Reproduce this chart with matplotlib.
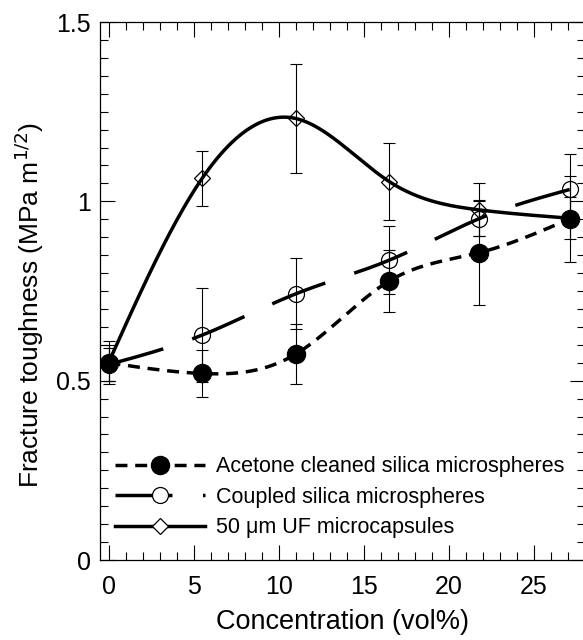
import matplotlib
matplotlib.use("Agg")
import matplotlib.pyplot as plt
from matplotlib.ticker import MultipleLocator
import numpy as np

# concentration (vol%)
conc = [0.0, 5.5, 11.0, 16.5, 21.8, 27.1]

# fracture toughness (MPa m^1/2) and error bars
acetone = [0.550, 0.520, 0.574, 0.778, 0.857, 0.951]
acetone_err = [0.060, 0.066, 0.084, 0.086, 0.146, 0.120]

coupled = [0.545, 0.627, 0.742, 0.836, 0.952, 1.033]
coupled_err = [0.045, 0.130, 0.099, 0.095, 0.050, 0.100]

uf = [0.550, 1.064, 1.231, 1.055, 0.976, 0.953]
uf_err = [0.050, 0.077, 0.152, 0.107, 0.074, 0.058]

labels = ["Acetone cleaned silica microspheres",
          "Coupled silica microspheres",
          "50 \u03bcm UF microcapsules"]


def smooth(x, y, n=300):
    # natural cubic spline through the points, only used to draw the curves
    x = np.asarray(x, float)
    y = np.asarray(y, float)
    k = len(x)
    h = np.diff(x)
    A = np.zeros((k, k))
    b = np.zeros(k)
    A[0, 0] = 1.0
    A[-1, -1] = 1.0
    for i in range(1, k - 1):
        A[i, i - 1] = h[i - 1]
        A[i, i] = 2.0 * (h[i - 1] + h[i])
        A[i, i + 1] = h[i]
        b[i] = 6.0 * ((y[i + 1] - y[i]) / h[i] - (y[i] - y[i - 1]) / h[i - 1])
    M = np.linalg.solve(A, b)
    xs = np.linspace(x[0], x[-1], n)
    idx = np.clip(np.searchsorted(x, xs) - 1, 0, k - 2)
    x0, x1 = x[idx], x[idx + 1]
    hh = x1 - x0
    t0 = x1 - xs
    t1 = xs - x0
    ys = (M[idx] * t0 ** 3 / (6 * hh) + M[idx + 1] * t1 ** 3 / (6 * hh)
          + (y[idx] / hh - M[idx] * hh / 6) * t0
          + (y[idx + 1] / hh - M[idx + 1] * hh / 6) * t1)
    return xs, ys


plt.rcParams['font.family'] = ['Liberation Sans', 'DejaVu Sans']
plt.rcParams['lines.scale_dashes'] = False

fig = plt.figure(figsize=(5.83, 6.40), dpi=100)
ax = fig.add_axes([100 / 583, 80 / 640, 485 / 583, 538 / 640])

lw = 2.5
short_dash = (0, (8.6, 5.6))
long_dash = (0, (41.0, 22.0))

# error bars
for y, e in [(acetone, acetone_err), (coupled, coupled_err), (uf, uf_err)]:
    ax.errorbar(conc, y, yerr=e, fmt='none', ecolor='black', elinewidth=0.8,
                capsize=4.3, capthick=0.8, zorder=2)

# fitted curves
xs, ys = smooth(conc, acetone)
ax.plot(xs, ys, color='black', lw=lw, linestyle=short_dash, zorder=3)
xs, ys = smooth(conc, coupled)
ax.plot(xs, ys, color='black', lw=lw, linestyle=long_dash, zorder=3)
xs, ys = smooth(conc, uf)
ax.plot(xs, ys, color='black', lw=lw, linestyle='-', zorder=3)

# markers
ax.plot(conc, acetone, 'o', ms=13, mfc='black', mec='black', zorder=4)
ax.plot(conc, coupled, 'o', ms=11.5, mfc='none', mec='black', mew=0.9, zorder=4)
ax.plot(conc, uf, 'D', ms=8.5, mfc='none', mec='black', mew=0.9, zorder=4)

# legend handles
h1, = ax.plot([], [], color='black', lw=lw, linestyle=short_dash,
              marker='o', ms=13, mfc='black', mec='black')
h2, = ax.plot([], [], color='black', lw=lw, linestyle=long_dash,
              marker='o', ms=11.5, mfc='white', mec='black', mew=0.9)
h3, = ax.plot([], [], color='black', lw=lw, linestyle='-',
              marker='D', ms=8.5, mfc='white', mec='black', mew=0.9)
ax.legend([h1, h2, h3], labels, loc='lower left', frameon=False,
          fontsize=15.5, numpoints=1, handlelength=4.2, handletextpad=0.5,
          labelspacing=0.45, borderaxespad=0.3, bbox_to_anchor=(0.0, 0.012))

ax.set_xlim(-0.5, 28)
ax.set_ylim(0, 1.5)
ax.xaxis.set_major_locator(MultipleLocator(5))
ax.xaxis.set_minor_locator(MultipleLocator(1))
ax.yaxis.set_major_locator(MultipleLocator(0.5))
ax.yaxis.set_minor_locator(MultipleLocator(0.05))
ax.set_yticks([0, 0.5, 1, 1.5])
ax.set_yticklabels(['0', '0.5', '1', '1.5'])
ax.tick_params(which='both', direction='in', top=True, right=True, width=0.8)
ax.tick_params(which='major', length=10.5, labelsize=18)
ax.tick_params(axis='x', which='major', pad=11)
ax.tick_params(axis='y', which='major', pad=6.5)
ax.tick_params(which='minor', length=5.5)
for s in ax.spines.values():
    s.set_linewidth(0.9)

ax.set_xlabel('Concentration (vol%)', fontsize=19.5, labelpad=7)
ax.set_ylabel('Fracture toughness (MPa m$^{1/2}$)', fontsize=19)
ax.yaxis.set_label_coords(-0.111, 0.474)

fig.savefig('out.png', dpi=100)
